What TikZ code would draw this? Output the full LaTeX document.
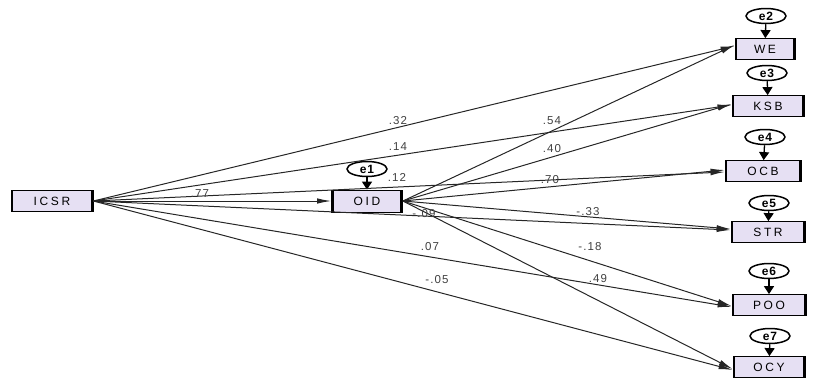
\documentclass[tikz,border=0pt]{standalone}
\usepackage{fontspec}
\setmainfont{Liberation Sans}
\usetikzlibrary{arrows.meta,shapes.geometric}
\begin{document}
\begin{tikzpicture}[x=1pt,y=-1pt,
 var/.style={draw=black, line width=0.8pt, fill={rgb,255:red,230;green,224;blue,243},
   minimum height=21pt, inner sep=0pt,
   font=\fontsize{12}{12}\selectfont\addfontfeature{LetterSpace=22},
   path picture={\draw[line width=4.5pt] (path picture bounding box.north west) -- (path picture bounding box.south west)
     (path picture bounding box.north east) -- (path picture bounding box.south east);}},
 err/.style={ellipse, draw, line width=1.5pt, fill=white, minimum width=40pt, minimum height=15pt,
   inner sep=0pt, font=\fontsize{12}{12}\selectfont\bfseries\addfontfeature{LetterSpace=8}},
 reg/.style={draw=black!85, line width=1pt, -{Latex[length=14pt,width=5.5pt]}},
 earr/.style={line width=1.3pt, -{Triangle[length=8pt,width=10pt]}},
 lbl/.style={font=\fontsize{11.5}{12}\selectfont\addfontfeature{LetterSpace=10}, inner sep=0pt, text=black!75}
]
\useasboundingbox (0,0) rectangle (814,381);

% exogenous and mediator
\node[var, minimum width=82pt] (ICSR) at (52,201) {ICSR};
\node[var, minimum width=71pt, minimum height=22pt] (OID) at (367,201) {OID};
\node[err] (e1) at (367,169) {e1};

% outcomes
\node[var, minimum width=60pt] (WE)  at (765,49)  {WE};
\node[var, minimum width=72pt] (KSB) at (768,106) {KSB};
\node[var, minimum width=76pt] (OCB) at (763,171) {OCB};
\node[var, minimum width=74pt] (STR) at (768,232) {STR};
\node[var, minimum width=74pt] (POO) at (769,305) {POO};
\node[var, minimum width=72pt] (OCY) at (769,367) {OCY};

\node[err] (e2) at (766,16)  {e2};
\node[err] (e3) at (767,73)  {e3};
\node[err] (e4) at (765,137) {e4};
\node[err] (e5) at (769,203) {e5};
\node[err] (e6) at (769,271) {e6};
\node[err] (e7) at (770,336) {e7};

% error arrows
\draw[earr] (e1) -- (OID);
\draw[earr] (e2) -- (WE);
\draw[earr] (e3) -- (KSB);
\draw[earr] (e4) -- (OCB);
\draw[earr] (e5) -- (STR);
\draw[earr] (e6) -- (POO);
\draw[earr] (e7) -- (OCY);

% paths from ICSR
\draw[reg] (ICSR.east) -- (OID.west);
\draw[reg] (ICSR.east) -- ([yshift=3pt]WE.west);
\draw[reg] (ICSR.east) -- ([yshift=1pt]KSB.west);
\draw[reg] (ICSR.east) -- ([yshift=-1pt]OCB.west);
\draw[reg] (ICSR.east) -- ([yshift=2pt]STR.west);
\draw[reg] (ICSR.east) -- ([yshift=-2pt]POO.west);
\draw[reg] (ICSR.east) -- ([yshift=-3pt]OCY.west);

% paths from OID
\draw[reg] (OID.east) -- ([yshift=4pt]WE.west);
\draw[reg] (OID.east) -- ([yshift=2pt]KSB.west);
\draw[reg] (OID.east) -- ([yshift=1pt]OCB.west);
\draw[reg] (OID.east) -- ([yshift=3pt]STR.west);
\draw[reg] (OID.east) -- ([yshift=-1pt]POO.west);
\draw[reg] (OID.east) -- ([yshift=-2pt]OCY.west);

% coefficients
\node[lbl] (l77) at (200,194) {.77};
\node[lbl] (l32) at (398,121) {.32};
\node[lbl] (l14) at (398,147) {.14};
\node[lbl] (l12) at (397,177) {.12};
\node[lbl] (l09) at (424,214) {-.09};
\node[lbl] (l07) at (430,247) {.07};
\node[lbl] (l05) at (437,280) {-.05};
\node[lbl] (l54) at (552,121) {.54};
\node[lbl] (l40) at (552,149) {.40};
\node[lbl] (l70) at (550,180) {.70};
\node[lbl] (l33) at (588,212) {-.33};
\node[lbl] (l18) at (590,247) {-.18};
\node[lbl] (l49) at (598,279) {.49};
\end{tikzpicture}
\end{document}
